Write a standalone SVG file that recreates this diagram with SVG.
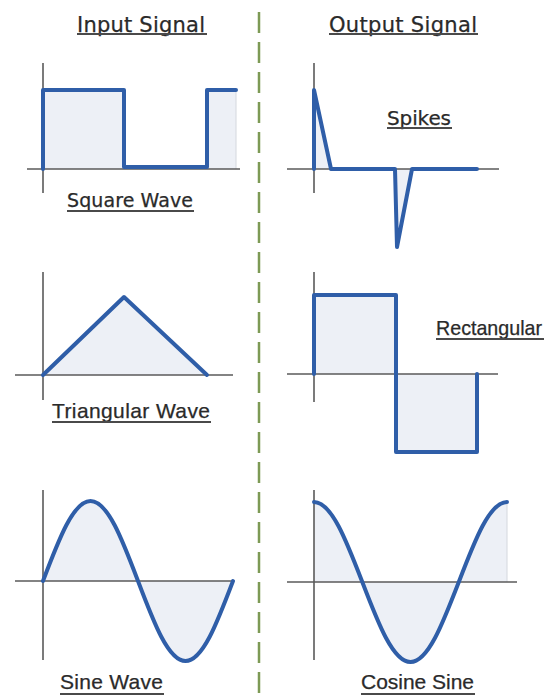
<svg xmlns="http://www.w3.org/2000/svg" width="548" height="695" viewBox="0 0 548 695">
<style>
.axis{stroke:#5a5a5a;stroke-width:1.6;fill:none}
.wave{stroke:#2f5ea8;stroke-width:4;fill:none;stroke-linejoin:round;stroke-linecap:round}
.fill{fill:#edf0f6;stroke:none}
.edge{stroke:#d4d8de;stroke-width:1;fill:none}
.t1{font-family:"DejaVu Sans",Verdana,sans-serif;font-size:19px;fill:#2a2a2a;stroke:#2a2a2a;stroke-width:0.25}
.t2{font-family:"Liberation Sans",Arial,sans-serif;font-size:21px;fill:#2a2a2a;stroke:#2a2a2a;stroke-width:0.25}
.ul{stroke:#4a4a4a;stroke-width:2}
.div{stroke:#7d9a55;stroke-width:2.5;stroke-dasharray:21 9;fill:none}
</style>
<rect width="548" height="695" fill="#ffffff"/>
<line class="div" x1="259" y1="12" x2="259" y2="695"/>
<g id="headers">
<text class="t1" x="77" y="32" textLength="128" style="font-size:21px">Input Signal</text>
<line class="ul" x1="77" y1="34" x2="207" y2="34"/>
<text class="t1" x="329" y="32" textLength="148" style="font-size:21px">Output Signal</text>
<line class="ul" x1="329" y1="34" x2="478" y2="34"/>
</g>
<g id="square">
<rect class="fill" x="43" y="90" width="81" height="79"/>
<rect class="fill" x="207" y="90" width="29" height="79"/>
<line class="edge" x1="236" y1="90" x2="236" y2="169"/>
<line class="axis" x1="43" y1="63" x2="43" y2="193"/>
<line class="axis" x1="27" y1="169" x2="240" y2="169"/>
<path class="wave" d="M43,169 L43,90 L124,90 L124,167 L207,167 L207,90 L236,90"/>
<text class="t1" x="67" y="207" textLength="126">Square Wave</text>
<line class="ul" x1="67" y1="211" x2="194" y2="211"/>
</g>
<g id="spikes">
<path class="fill" d="M314,169 L314,90 L331,169 Z M395,169 L397,247 L412,169 Z"/>
<line class="axis" x1="314" y1="63" x2="314" y2="193"/>
<line class="axis" x1="287" y1="169" x2="499" y2="169"/>
<path class="wave" d="M314,169 L314,90 L331,169 L395,169 L397,247 L412,169 L477,169"/>
<text class="t1" x="387" y="125" textLength="64" style="font-size:20px">Spikes</text>
<line class="ul" x1="387" y1="128" x2="452" y2="128"/>
</g>
<g id="triangular">
<path class="fill" d="M43,375 L124,297 L207,375 Z"/>
<line class="axis" x1="43" y1="272" x2="43" y2="400"/>
<line class="axis" x1="15" y1="375" x2="233" y2="375"/>
<path class="wave" d="M43,375 L124,297 L207,375"/>
<text class="t2" x="52" y="418" textLength="158">Triangular Wave</text>
<line class="ul" x1="52" y1="422" x2="211" y2="422"/>
</g>
<g id="rectangular">
<rect class="fill" x="314" y="295" width="82" height="79"/>
<rect class="fill" x="396" y="374" width="81" height="78"/>
<line class="axis" x1="314" y1="272" x2="314" y2="402"/>
<line class="axis" x1="287" y1="374" x2="498" y2="374"/>
<path class="wave" d="M314,374 L314,295 L396,295 L396,452 L477,452 L477,374"/>
<text class="t2" x="436" y="335" textLength="106" lengthAdjust="spacingAndGlyphs">Rectangular</text>
<line class="ul" x1="436" y1="339" x2="544" y2="339"/>
</g>
<g id="sine">
<path class="fill" d="M43,581 C58.9,539 73.4,501 90.5,501 C107.6,501 122.1,539 138,581 C153.9,623 168.4,661 185.5,661 C202.6,661 217.1,623 233,581 Z"/>
<line class="axis" x1="43" y1="490" x2="43" y2="660"/>
<line class="axis" x1="15" y1="581" x2="233" y2="581"/>
<path class="wave" d="M43,581 C58.9,539 73.4,501 90.5,501 C107.6,501 122.1,539 138,581 C153.9,623 168.4,661 185.5,661 C202.6,661 217.1,623 233,581"/>
<text class="t2" x="60" y="689" textLength="103">Sine Wave</text>
<line class="ul" x1="60" y1="694" x2="164" y2="694"/>
</g>
<g id="cosine">
<path class="fill" d="M314,582 L314,502 C331.4,502 346.1,540 362.3,582 C378.4,624 393.1,662 410.5,662 C427.9,662 442.6,624 458.8,582 C474.9,540 489.6,502 507,502 L507,582 Z"/>
<line class="edge" x1="507" y1="502" x2="507" y2="582"/>
<line class="axis" x1="314" y1="490" x2="314" y2="660"/>
<line class="axis" x1="287" y1="582" x2="517" y2="582"/>
<path class="wave" d="M314,502 C331.4,502 346.1,540 362.3,582 C378.4,624 393.1,662 410.5,662 C427.9,662 442.6,624 458.8,582 C474.9,540 489.6,502 507,502"/>
<text class="t2" x="361" y="689" textLength="113">Cosine Sine</text>
<line class="ul" x1="361" y1="694" x2="475" y2="694"/>
</g>
</svg>
